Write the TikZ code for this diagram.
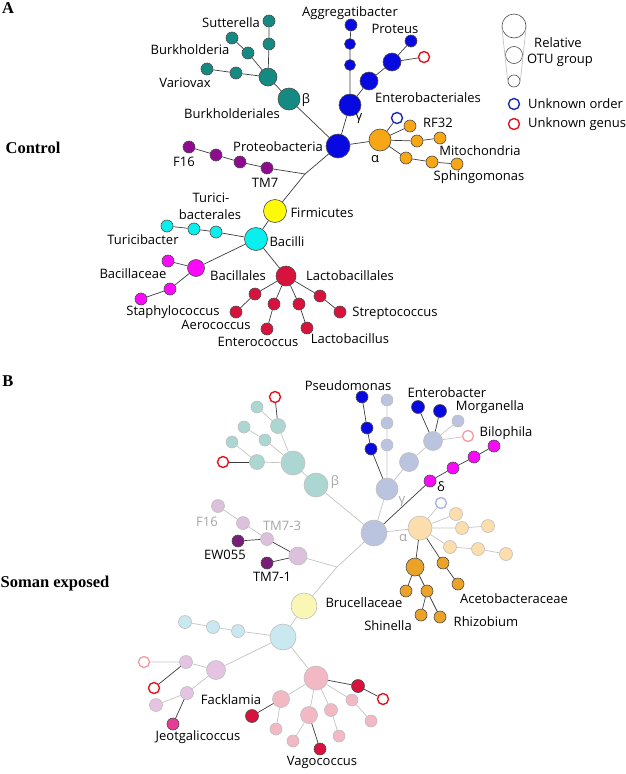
\documentclass[tikz,border=0pt]{standalone}
\usepackage{fontspec}
\usepackage{tikz}
\newfontfamily\labfam{Open Sans}
\newfontfamily\headfam{Liberation Serif}
\newcommand{\labfont}{\labfam\fontsize{13}{15}\selectfont}
\newcommand{\headfont}{\headfam\bfseries\fontsize{16.5}{18}\selectfont}

\begin{document}
\begin{tikzpicture}[x=1pt, y=-1pt]
      % colours: solid groups
      \definecolor{tealc}{RGB}{20,138,130}
      \definecolor{bluec}{RGB}{8,8,225}
      \definecolor{orangec}{RGB}{247,166,22}
      \definecolor{purplec}{RGB}{142,10,142}
      \definecolor{yellowc}{RGB}{255,250,10}
      \definecolor{cyanc}{RGB}{10,238,238}
      \definecolor{magentac}{RGB}{250,10,250}
      \definecolor{crimsonc}{RGB}{215,18,60}
      % colours: faded groups
      \definecolor{tealf}{RGB}{172,214,210}
      \definecolor{bluef}{RGB}{187,196,222}
      \definecolor{orangef}{RGB}{251,222,172}
      \definecolor{darkorange}{RGB}{234,163,40}
      \definecolor{purplef}{RGB}{220,192,220}
      \definecolor{purpled}{RGB}{120,30,120}
      \definecolor{lilacf}{RGB}{228,196,226}
      \definecolor{yellowf}{RGB}{250,246,180}
      \definecolor{cyanf}{RGB}{202,232,240}
      \definecolor{pinkf}{RGB}{242,184,196}
      \definecolor{pinkd}{RGB}{230,60,150}
      % rings, lines, text
      \definecolor{redopen}{RGB}{225,20,30}
      \definecolor{pinkopen}{RGB}{240,160,165}
      \definecolor{blueopen}{RGB}{30,40,170}
      \definecolor{blueopenf}{RGB}{170,180,225}
      \definecolor{linec}{RGB}{60,60,60}
      \definecolor{linef}{RGB}{195,195,195}
      \definecolor{fadetext}{RGB}{165,165,165}

      % styles
      \tikzstyle{otu} = [circle, draw=black!70, line width=0.6pt, inner sep=0pt, minimum size=12pt]
      \tikzstyle{fotu} = [circle, draw=black!25, line width=0.6pt, inner sep=0pt, minimum size=12pt]
      \tikzstyle{ring} = [circle, fill=white, line width=1.4pt, inner sep=0pt, minimum size=11pt]
      \tikzstyle{lab} = [font=\labfont, inner sep=0pt]
      \tikzstyle{flab} = [font=\labfont, inner sep=0pt, text=fadetext]
      \tikzstyle{head} = [font=\headfont, inner sep=0pt]
      \tikzstyle{link} = [draw=linec, line width=0.7pt]
      \tikzstyle{flink} = [draw=linef, line width=0.7pt]

      \useasboundingbox (0,0) rectangle (625,774);

      % panel headings
      \node[head] (pA) at (8,8) {A};
      \node[head] (ctlA) at (33,148) {Control};
      \node[head] (pB) at (8,381) {B};
      \node[head] (somB) at (55,584) {Soman exposed};

      % ===== panel A: nodes =====
      \node[otu, fill=bluec, minimum size=24pt] (proA) at (338,146) {};
      \node[otu, fill=tealc, minimum size=22pt] (betaA) at (289,99) {};
      \node[otu, fill=tealc, minimum size=18pt] (burkA) at (268,77) {};
      \node[otu, fill=tealc] (sutA1) at (269,44) {};
      \node[otu, fill=tealc] (sutA2) at (269,21) {};
      \node[otu, fill=tealc] (bhA1) at (248,53) {};
      \node[otu, fill=tealc] (bhA2) at (232,38) {};
      \node[otu, fill=tealc] (varA1) at (236,73) {};
      \node[otu, fill=tealc] (varA2) at (207,69) {};

      \node[otu, fill=bluec, minimum size=22pt] (gamA) at (350,105) {};
      \node[otu, fill=bluec, minimum size=11pt] (aggA1) at (350,65) {};
      \node[otu, fill=bluec, minimum size=11pt] (aggA2) at (350,44) {};
      \node[otu, fill=bluec] (aggA3) at (351,25) {};
      \node[otu, fill=bluec, minimum size=18pt] (entA1) at (369,81) {};
      \node[otu, fill=bluec, minimum size=18pt] (entA2) at (392,62) {};
      \node[otu, fill=bluec] (protA) at (411,41) {};
      \node[ring, draw=redopen] (unkA1) at (424,57) {};

      \node[otu, fill=orangec, minimum size=22pt] (alpA) at (380,140) {};
      \node[ring, draw=blueopen] (unkA2) at (397,118) {};
      \node[otu, fill=orangec] (rfA) at (410,126) {};
      \node[otu, fill=orangec] (mitA1) at (417,141) {};
      \node[otu, fill=orangec] (mitA2) at (440,138) {};
      \node[otu, fill=orangec] (sphA1) at (406,158) {};
      \node[otu, fill=orangec] (sphA2) at (432,162) {};
      \node[otu, fill=orangec] (sphA3) at (457,164) {};

      \coordinate (jA) at (305,174);
      \node[otu, fill=purplec] (tmA1) at (267,168) {};
      \node[otu, fill=purplec] (tmA2) at (240,162) {};
      \node[otu, fill=purplec] (tmA3) at (216,155) {};
      \node[otu, fill=purplec] (tmA4) at (189,147) {};

      \node[otu, fill=yellowc, minimum size=23pt] (firA) at (275,211) {};
      \node[otu, fill=cyanc, minimum size=23pt] (bacA) at (256,239) {};
      \node[otu, fill=cyanc] (turA1) at (216,232) {};
      \node[otu, fill=cyanc] (turA2) at (194,229) {};
      \node[otu, fill=cyanc] (turA3) at (167,226) {};

      \node[otu, fill=magentac, minimum size=17pt] (bllA) at (196,268) {};
      \node[otu, fill=magentac] (bceA) at (168,261) {};
      \node[otu, fill=magentac] (staA1) at (170,289) {};
      \node[otu, fill=magentac] (staA2) at (141,299) {};

      \node[otu, fill=crimsonc, minimum size=20pt] (lacA) at (286,276) {};
      \node[otu, fill=crimsonc] (aerA1) at (255,294) {};
      \node[otu, fill=crimsonc] (aerA2) at (236,312) {};
      \node[otu, fill=crimsonc] (entcA1) at (274,304) {};
      \node[otu, fill=crimsonc] (entcA2) at (267,329) {};
      \node[otu, fill=crimsonc] (lbA1) at (299,304) {};
      \node[otu, fill=crimsonc] (lbA2) at (307,328) {};
      \node[otu, fill=crimsonc] (strA1) at (320,296) {};
      \node[otu, fill=crimsonc] (strA2) at (340,312) {};

      % panel A: links
      \draw[link] (proA) -- (betaA) -- (burkA);
      \draw[link] (burkA) -- (sutA1) -- (sutA2);
      \draw[link] (burkA) -- (bhA1) -- (bhA2);
      \draw[link] (burkA) -- (varA1) -- (varA2);
      \draw[link] (proA) -- (gamA) -- (aggA1) -- (aggA2) -- (aggA3);
      \draw[link] (gamA) -- (entA1) -- (entA2) -- (protA);
      \draw[link] (entA2) -- (unkA1);
      \draw[link] (proA) -- (alpA) -- (unkA2);
      \draw[link] (alpA) -- (rfA);
      \draw[link] (alpA) -- (mitA1) -- (mitA2);
      \draw[link] (alpA) -- (sphA1) -- (sphA2) -- (sphA3);
      \draw[link] (proA) -- (jA) -- (firA);
      \draw[link] (jA) -- (tmA1) -- (tmA2) -- (tmA3) -- (tmA4);
      \draw[link] (firA) -- (bacA);
      \draw[link] (bacA) -- (turA1) -- (turA2) -- (turA3);
      \draw[link] (bacA) -- (bllA) -- (bceA);
      \draw[link] (bllA) -- (staA1) -- (staA2);
      \draw[link] (bacA) -- (lacA);
      \draw[link] (lacA) -- (aerA1) -- (aerA2);
      \draw[link] (lacA) -- (entcA1) -- (entcA2);
      \draw[link] (lacA) -- (lbA1) -- (lbA2);
      \draw[link] (lacA) -- (strA1) -- (strA2);

      % panel A: labels
      \node[lab] (lSut) at (231,23) {Sutterella};
      \node[lab] (lBhd) at (190,50) {Burkholderia};
      \node[lab] (lVar) at (185,83) {Variovax};
      \node[lab] (lBhl) at (232,114) {Burkholderiales};
      \node[lab] (lbetaA) at (306,100) {β};
      \node[lab] (lPro) at (278,147) {Proteobacteria};
      \node[lab] (lF16A) at (184,162) {F16};
      \node[lab] (lTM7A) at (265,183) {TM7};
      \node[lab] (lAgg) at (350,13) {Aggregatibacter};
      \node[lab] (lProt) at (395,29) {Proteus};
      \node[lab] (lEntA) at (428,98) {Enterobacteriales};
      \node[lab] (lgamA) at (359,119) {γ};
      \node[lab] (lRF) at (438,123) {RF32};
      \node[lab] (lalpA) at (375,159) {α};
      \node[lab] (lMit) at (480,151) {Mitochondria};
      \node[lab] (lSph) at (479,177) {Sphingomonas};
      \node[lab] (lTur1) at (211,198) {Turici-};
      \node[lab] (lTur2) at (210,215) {bacterales};
      \node[lab] (lFir) at (322,213) {Firmicutes};
      \node[lab] (lTurb) at (143,240) {Turicibacter};
      \node[lab] (lBac) at (287,242) {Bacilli};
      \node[lab] (lBce) at (133,274) {Bacillaceae};
      \node[lab] (lBll) at (238,276) {Bacillales};
      \node[lab] (lLac) at (350,276) {Lactobacillales};
      \node[lab] (lSta) at (173,312) {Staphylococcus};
      \node[lab] (lAer) at (216,325) {Aerococcus};
      \node[lab] (lEnc) at (258,342) {Enterococcus};
      \node[lab] (lLb) at (350,339) {Lactobacillus};
      \node[lab] (lStr) at (395,313) {Streptococcus};

      % legend
      \node[otu, fill=white, minimum size=24pt] (legbig) at (514,26) {};
      \node[otu, fill=white, minimum size=17pt] (legmid) at (514,55) {};
      \node[otu, fill=white, minimum size=12pt] (legsmall) at (514,81) {};
      \draw[flink] (legbig.west) -- (legsmall.west);
      \draw[flink] (legbig.east) -- (legsmall.east);
      \node[lab] (lRel) at (558,43) {Relative};
      \node[lab] (lOTU) at (560,60) {OTU group};
      \node[ring, draw=blueopen] (legord) at (514,104) {};
      \node[lab, anchor=west] (lOrd) at (528,104) {Unknown order};
      \node[ring, draw=redopen] (leggen) at (514,124) {};
      \node[lab, anchor=west] (lGen) at (528,124) {Unknown genus};

      % ===== panel B: nodes =====
      \node[fotu, fill=bluef, minimum size=26pt] (ctrB) at (374,533) {};
      \node[fotu, fill=tealf, minimum size=24pt] (betaB) at (316,485) {};
      \node[fotu, fill=tealf, minimum size=24pt] (bhubB) at (293,463) {};
      \node[fotu, fill=tealf, minimum size=15pt] (btB1) at (278,426) {};
      \node[ring, draw=redopen] (unkB1) at (275,397) {};
      \node[fotu, fill=tealf] (btB2) at (257,407) {};
      \node[fotu, fill=tealf] (btB3) at (265,440) {};
      \node[fotu, fill=tealf] (btB4) at (244,427) {};
      \node[fotu, fill=tealf, minimum size=15pt] (btB5) at (257,462) {};
      \node[ring, draw=redopen] (unkB2) at (223,462) {};
      \node[fotu, fill=tealf] (btB6) at (232,442) {};

      \node[fotu, fill=bluef, minimum size=22pt] (gamB) at (387,489) {};
      \node[otu, fill=bluec] (psB1) at (371,449) {};
      \node[otu, fill=bluec] (psB2) at (367,428) {};
      \node[otu, fill=bluec] (psB3) at (362,397) {};
      \node[fotu, fill=bluef] (gcB1) at (387,445) {};
      \node[fotu, fill=bluef] (gcB2) at (387,423) {};
      \node[fotu, fill=bluef] (gcB3) at (387,400) {};
      \node[fotu, fill=bluef, minimum size=19pt] (geB1) at (409,462) {};
      \node[fotu, fill=bluef, minimum size=19pt] (geB2) at (433,441) {};
      \node[otu, fill=bluec, minimum size=13pt] (enbB) at (418,407) {};
      \node[otu, fill=bluec, minimum size=13pt] (morB) at (440,411) {};
      \node[fotu, fill=bluef] (gfB) at (458,421) {};
      \node[ring, draw=pinkopen] (unkB3) at (468,436) {};

      \node[otu, fill=magentac] (dlB1) at (430,481) {};
      \node[otu, fill=magentac] (dlB2) at (453,468) {};
      \node[otu, fill=magentac] (dlB3) at (474,457) {};
      \node[otu, fill=magentac] (dlB4) at (494,446) {};

      \node[fotu, fill=orangef, minimum size=24pt] (alpB) at (420,528) {};
      \node[ring, draw=blueopenf] (unkB4) at (441,503) {};
      \node[fotu, fill=orangef, minimum size=13pt] (aoB1) at (456,514) {};
      \node[fotu, fill=orangef, minimum size=13pt] (aoB2) at (462,528) {};
      \node[fotu, fill=orangef, minimum size=13pt] (aoB3) at (488,526) {};
      \node[fotu, fill=orangef, minimum size=13pt] (aoB4) at (450,547) {};
      \node[fotu, fill=orangef, minimum size=13pt] (aoB5) at (478,549) {};
      \node[fotu, fill=orangef, minimum size=13pt] (aoB6) at (506,554) {};
      \node[otu, fill=darkorange, minimum size=18pt] (rhB1) at (415,567) {};
      \node[otu, fill=darkorange] (rhB2) at (406,591) {};
      \node[otu, fill=darkorange] (rhB3) at (427,591) {};
      \node[otu, fill=darkorange] (rhB4) at (421,615) {};
      \node[otu, fill=darkorange] (rhB5) at (440,617) {};
      \node[otu, fill=darkorange] (acB1) at (443,563) {};
      \node[otu, fill=darkorange] (acB2) at (458,584) {};

      \coordinate (jB) at (337,567);
      \node[fotu, fill=purplef, minimum size=18pt] (tmB0) at (298,556) {};
      \node[fotu, fill=purplef, minimum size=13pt] (tmB1) at (267,539) {};
      \node[fotu, fill=purplef, minimum size=13pt] (tmB2) at (243,523) {};
      \node[fotu, fill=purplef, minimum size=13pt] (tmB3) at (218,506) {};
      \node[otu, fill=purpled] (ewB) at (238,541) {};
      \node[otu, fill=purpled] (tm1B) at (267,563) {};

      \node[fotu, fill=yellowf, minimum size=26pt] (firB) at (304,606) {};
      \node[fotu, fill=cyanf, minimum size=26pt] (bacB) at (283,637) {};
      \node[fotu, fill=cyanf, minimum size=13pt] (tuB1) at (238,631) {};
      \node[fotu, fill=cyanf, minimum size=13pt] (tuB2) at (213,627) {};
      \node[fotu, fill=cyanf, minimum size=13pt] (tuB3) at (185,622) {};

      \node[fotu, fill=lilacf, minimum size=19pt] (bllB) at (216,670) {};
      \node[fotu, fill=lilacf, minimum size=13pt] (blB1) at (186,662) {};
      \node[ring, draw=pinkopen] (unkB5) at (144,662) {};
      \node[ring, draw=redopen] (unkB6) at (154,688) {};
      \node[fotu, fill=lilacf, minimum size=13pt] (blB2) at (187,693) {};
      \node[fotu, fill=lilacf, minimum size=13pt] (blB3) at (156,705) {};
      \node[otu, fill=pinkd] (jeoB) at (173,724) {};

      \node[fotu, fill=pinkf, minimum size=24pt] (lacB) at (316,678) {};
      \node[otu, fill=crimsonc, minimum size=13pt] (lcB1) at (358,686) {};
      \node[ring, draw=redopen] (unkB7) at (383,699) {};
      \node[fotu, fill=pinkf] (lcB2) at (352,700) {};
      \node[fotu, fill=pinkf] (lcB3) at (371,721) {};
      \node[fotu, fill=pinkf, minimum size=13pt] (lcB4) at (331,710) {};
      \node[fotu, fill=pinkf] (lcB5) at (339,736) {};
      \node[fotu, fill=pinkf, minimum size=17pt] (lcB6) at (309,715) {};
      \node[otu, fill=crimsonc] (vagB) at (320,749) {};
      \node[fotu, fill=pinkf] (lcB7) at (293,741) {};
      \node[fotu, fill=pinkf, minimum size=17pt] (fkB) at (281,699) {};
      \node[otu, fill=crimsonc, minimum size=13pt] (fkB1) at (252,716) {};
      \node[fotu, fill=pinkf] (fkB2) at (276,729) {};

      % panel B: links
      \draw[flink] (ctrB) -- (betaB) -- (bhubB);
      \draw[flink] (bhubB) -- (btB1) -- (btB2);
      \draw[link] (btB1) -- (unkB1);
      \draw[flink] (bhubB) -- (btB3) -- (btB4);
      \draw[flink] (bhubB) -- (btB5) -- (btB6);
      \draw[link] (btB5) -- (unkB2);
      \draw[flink] (ctrB) -- (gamB) -- (gcB1) -- (gcB2) -- (gcB3);
      \draw[link] (gamB) -- (psB1) -- (psB2) -- (psB3);
      \draw[flink] (gamB) -- (geB1) -- (geB2);
      \draw[link] (geB2) -- (enbB);
      \draw[link] (geB2) -- (morB);
      \draw[flink] (geB2) -- (gfB);
      \draw[flink] (geB2) -- (unkB3);
      \draw[link] (ctrB) -- (dlB1) -- (dlB2) -- (dlB3) -- (dlB4);
      \draw[flink] (ctrB) -- (alpB) -- (unkB4);
      \draw[flink] (alpB) -- (aoB1);
      \draw[flink] (alpB) -- (aoB2) -- (aoB3);
      \draw[flink] (alpB) -- (aoB4) -- (aoB5) -- (aoB6);
      \draw[link] (alpB) -- (rhB1) -- (rhB2);
      \draw[link] (rhB1) -- (rhB3) -- (rhB4);
      \draw[link] (rhB3) -- (rhB5);
      \draw[link] (alpB) -- (acB1) -- (acB2);
      \draw[flink] (ctrB) -- (jB) -- (firB);
      \draw[flink] (jB) -- (tmB0);
      \draw[link] (tmB0) -- (tmB1) -- (ewB);
      \draw[link] (tmB0) -- (tm1B);
      \draw[flink] (tmB1) -- (tmB2) -- (tmB3);
      \draw[flink] (firB) -- (bacB);
      \draw[flink] (bacB) -- (tuB1) -- (tuB2) -- (tuB3);
      \draw[flink] (bacB) -- (bllB) -- (blB1) -- (unkB5);
      \draw[link] (blB1) -- (unkB6);
      \draw[flink] (bllB) -- (blB2) -- (blB3);
      \draw[link] (blB2) -- (jeoB);
      \draw[flink] (bacB) -- (lacB);
      \draw[link] (lacB) -- (lcB1) -- (unkB7);
      \draw[flink] (lacB) -- (lcB2) -- (lcB3);
      \draw[flink] (lacB) -- (lcB4) -- (lcB5);
      \draw[flink] (lacB) -- (lcB6) -- (lcB7);
      \draw[link] (lcB6) -- (vagB);
      \draw[flink] (lacB) -- (fkB) -- (fkB2);
      \draw[link] (fkB) -- (fkB1);

      % panel B: labels
      \node[lab] (lPse) at (348,386) {Pseudomonas};
      \node[lab] (lEnb) at (447,393) {Enterobacter};
      \node[lab] (lMor) at (490,407) {Morganella};
      \node[lab] (lBil) at (506,433) {Bilophila};
      \node[lab] (ldelB) at (441,487) {δ};
      \node[flab] (lbetaB) at (335,482) {β};
      \node[flab] (lgamB) at (402,502) {γ};
      \node[flab] (lalpB) at (403,538) {α};
      \node[flab] (lF16B) at (207,522) {F16};
      \node[flab] (lTM73) at (282,526) {TM7-3};
      \node[lab] (lEW) at (225,555) {EW055};
      \node[lab] (lTM71) at (272,577) {TM7-1};
      \node[lab] (lBru) at (364,603) {Brucellaceae};
      \node[lab] (lAce) at (514,599) {Acetobacteraceae};
      \node[lab] (lShi) at (388,626) {Shinella};
      \node[lab] (lRhi) at (486,622) {Rhizobium};
      \node[lab] (lFac) at (231,700) {Facklamia};
      \node[lab] (lJeo) at (198,737) {Jeotgalicoccus};
      \node[lab] (lVag) at (322,762) {Vagococcus};
    \end{tikzpicture}
\end{document}
